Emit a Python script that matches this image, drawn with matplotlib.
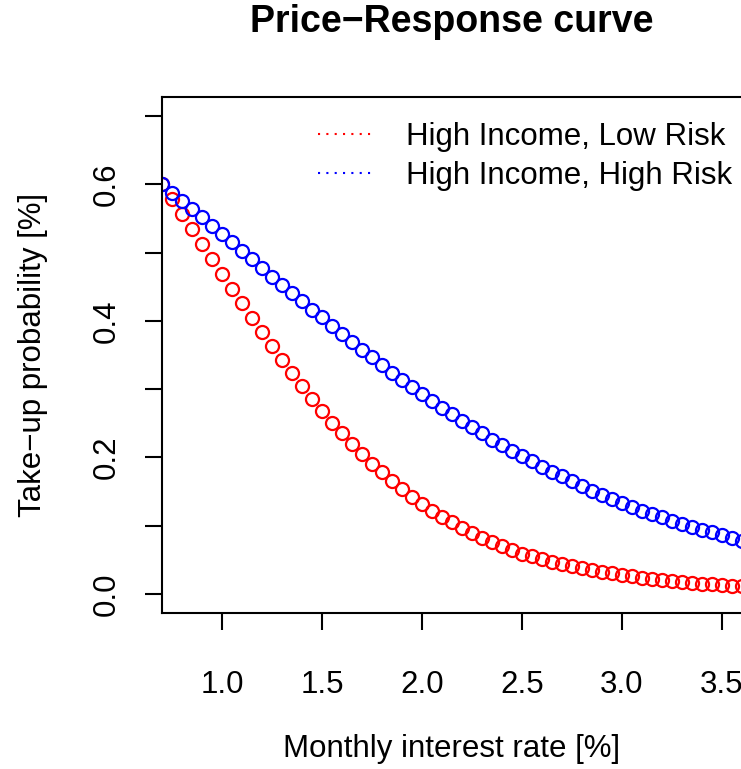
import matplotlib
matplotlib.use("Agg")
import matplotlib.pyplot as plt
from matplotlib.lines import Line2D
from matplotlib.ticker import MultipleLocator

# ── Data ────────────────────────────────────────────────────────────────────
rate = [0.70, 0.75, 0.80, 0.85, 0.90, 0.95, 1.00, 1.05, 1.10, 1.15,
        1.20, 1.25, 1.30, 1.35, 1.40, 1.45, 1.50, 1.55, 1.60, 1.65,
        1.70, 1.75, 1.80, 1.85, 1.90, 1.95, 2.00, 2.05, 2.10, 2.15,
        2.20, 2.25, 2.30, 2.35, 2.40, 2.45, 2.50, 2.55, 2.60, 2.65,
        2.70, 2.75, 2.80, 2.85, 2.90, 2.95, 3.00, 3.05, 3.10, 3.15,
        3.20, 3.25, 3.30, 3.35, 3.40, 3.45, 3.50, 3.55, 3.60]

low_risk = [0.600, 0.579, 0.557, 0.535, 0.513, 0.491, 0.469, 0.447, 0.426, 0.404,
            0.383, 0.363, 0.343, 0.323, 0.304, 0.286, 0.268, 0.251, 0.235, 0.220,
            0.205, 0.191, 0.178, 0.165, 0.154, 0.142, 0.132, 0.122, 0.113, 0.105,
            0.097, 0.089, 0.082, 0.076, 0.070, 0.064, 0.059, 0.055, 0.051, 0.047,
            0.044, 0.041, 0.038, 0.035, 0.032, 0.030, 0.028, 0.026, 0.024, 0.022,
            0.020, 0.019, 0.018, 0.016, 0.015, 0.014, 0.013, 0.012, 0.011]

high_risk = [0.600, 0.588, 0.576, 0.564, 0.552, 0.539, 0.527, 0.515, 0.502, 0.490,
             0.478, 0.465, 0.453, 0.441, 0.429, 0.416, 0.405, 0.393, 0.381, 0.369,
             0.358, 0.347, 0.335, 0.324, 0.314, 0.303, 0.293, 0.283, 0.273, 0.263,
             0.254, 0.244, 0.235, 0.226, 0.218, 0.210, 0.202, 0.194, 0.186, 0.179,
             0.172, 0.165, 0.158, 0.151, 0.145, 0.139, 0.133, 0.128, 0.122, 0.117,
             0.112, 0.107, 0.103, 0.098, 0.094, 0.090, 0.086, 0.082, 0.078]

series_names = ["High Income, Low Risk", "High Income, High Risk"]
series_colors = ["#FF0000", "#0000FF"]

# ── Figure ──────────────────────────────────────────────────────────────────
W, H = 741, 769
FONT = ["Liberation Sans", "DejaVu Sans"]
FS = 22.5
plt.rcParams["font.family"] = FONT

fig = plt.figure(figsize=(W / 100, H / 100), dpi=100, facecolor="white")
ax = fig.add_axes([162 / W, 1 - 613 / H, (742 - 162) / W, (613 - 97) / H])

for ys, c in zip([low_risk, high_risk], series_colors):
    ax.plot(rate, ys, linestyle="none", marker="o", ms=9.4, mfc="none",
            mec=c, mew=1.6)

ax.set_xlim(0.7, 3.6)
ax.set_ylim(-0.028, 0.728)
ax.yaxis.set_minor_locator(MultipleLocator(0.1))
ax.set_xticks([1.0, 1.5, 2.0, 2.5, 3.0, 3.5])
ax.set_xticklabels(["1.0", "1.5", "2.0", "2.5", "3.0", "3.5"])
ax.set_yticks([0.0, 0.2, 0.4, 0.6])
ax.set_yticklabels(["0.0", "0.2", "0.4", "0.6"], rotation=90, va="center")

ax.tick_params(axis="both", which="both", length=12.2, width=1.5,
               direction="out", labelsize=FS)
ax.tick_params(axis="x", pad=29)
ax.tick_params(axis="y", pad=17)

for s in ["left", "bottom", "top"]:
    ax.spines[s].set_linewidth(1.5)
ax.spines["right"].set_visible(False)

ax.set_xlabel("Monthly interest rate [%]", fontsize=FS)
ax.set_ylabel("Take\u2212up probability [%]", fontsize=FS)
ax.xaxis.label.set_va("center")
ax.yaxis.label.set_va("center")
ax.xaxis.set_label_coords((452 - 162) / (742 - 162), (613 - 749) / (613 - 97))
ax.yaxis.set_label_coords((33 - 162) / (742 - 162), 0.5)

fig.suptitle("Price\u2212Response curve", x=452 / W, y=1 - 22 / H,
             va="center", ha="center", fontsize=27, fontweight="bold")

handles = [Line2D([], [], color=c, lw=1.5, dashes=(1, 3)) for c in series_colors]
ax.legend(handles, series_names, loc="upper left",
          bbox_to_anchor=(318 / W, 1 - 122 / H), bbox_transform=fig.transFigure,
          frameon=False, fontsize=FS, borderpad=0, borderaxespad=0,
          handlelength=1.86, handletextpad=0.96, labelspacing=0.3)

fig.savefig("out.png", dpi=100, facecolor="white")
